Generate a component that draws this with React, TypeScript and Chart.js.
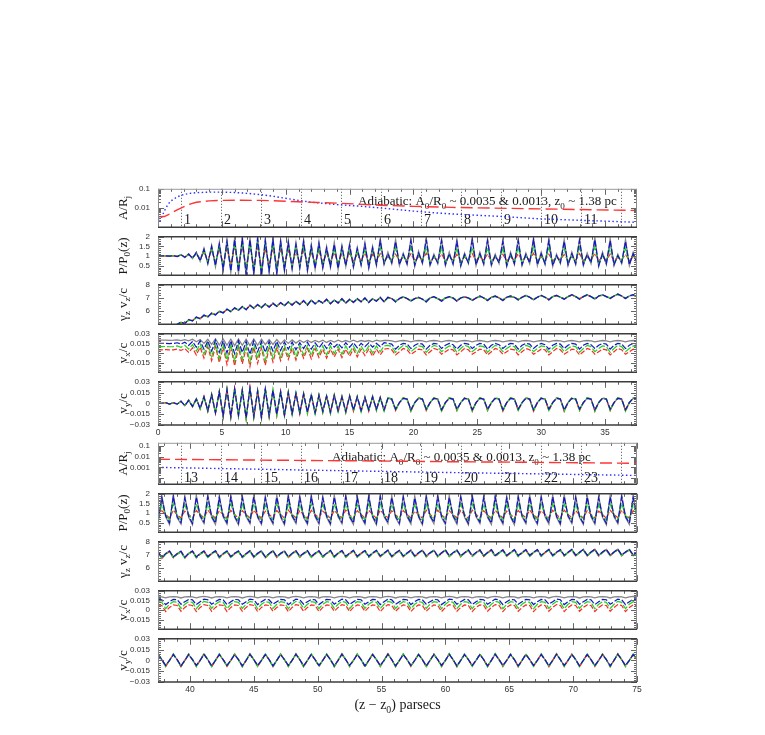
import React, { useEffect, useRef } from "react";
import { Chart, registerables } from "chart.js";

Chart.register(...registerables);

// ---------------- categories (x, parsecs) ----------------
const X_TOP = [
  0, .3, .6, .9, 1.2, 1.5, 1.8, 2.1, 2.4, 2.7,
  3, 3.3, 3.6, 3.9, 4.2, 4.5, 4.8, 5.1, 5.4, 5.7,
  6, 6.3, 6.6, 6.9, 7.2, 7.5, 7.8, 8.1, 8.4, 8.7,
  9, 9.3, 9.6, 9.9, 10.2, 10.5, 10.8, 11.1, 11.4, 11.7,
  12, 12.3, 12.6, 12.9, 13.2, 13.5, 13.8, 14.1, 14.4, 14.7,
  15, 15.3, 15.6, 15.9, 16.2, 16.5, 16.8, 17.1, 17.4, 17.7,
  18, 18.3, 18.6, 18.9, 19.2, 19.5, 19.8, 20.1, 20.4, 20.7,
  21, 21.3, 21.6, 21.9, 22.2, 22.5, 22.8, 23.1, 23.4, 23.7,
  24, 24.3, 24.6, 24.9, 25.2, 25.5, 25.8, 26.1, 26.4, 26.7,
  27, 27.3, 27.6, 27.9, 28.2, 28.5, 28.8, 29.1, 29.4, 29.7,
  30, 30.3, 30.6, 30.9, 31.2, 31.5, 31.8, 32.1, 32.4, 32.7,
  33, 33.3, 33.6, 33.9, 34.2, 34.5, 34.8, 35.1, 35.4, 35.7,
  36, 36.3, 36.6, 36.9, 37.2, 37.5,
];
const X_BOT = [
  37.5, 37.8, 38.1, 38.4, 38.7, 39, 39.3, 39.6, 39.9, 40.2,
  40.5, 40.8, 41.1, 41.4, 41.7, 42, 42.3, 42.6, 42.9, 43.2,
  43.5, 43.8, 44.1, 44.4, 44.7, 45, 45.3, 45.6, 45.9, 46.2,
  46.5, 46.8, 47.1, 47.4, 47.7, 48, 48.3, 48.6, 48.9, 49.2,
  49.5, 49.8, 50.1, 50.4, 50.7, 51, 51.3, 51.6, 51.9, 52.2,
  52.5, 52.8, 53.1, 53.4, 53.7, 54, 54.3, 54.6, 54.9, 55.2,
  55.5, 55.8, 56.1, 56.4, 56.7, 57, 57.3, 57.6, 57.9, 58.2,
  58.5, 58.8, 59.1, 59.4, 59.7, 60, 60.3, 60.6, 60.9, 61.2,
  61.5, 61.8, 62.1, 62.4, 62.7, 63, 63.3, 63.6, 63.9, 64.2,
  64.5, 64.8, 65.1, 65.4, 65.7, 66, 66.3, 66.6, 66.9, 67.2,
  67.5, 67.8, 68.1, 68.4, 68.7, 69, 69.3, 69.6, 69.9, 70.2,
  70.5, 70.8, 71.1, 71.4, 71.7, 72, 72.3, 72.6, 72.9, 73.2,
  73.5, 73.8, 74.1, 74.4, 74.7, 75,
];

// ---------------- A/R_j ----------------
const AR_TOP_RX = [0, .5, 1, 1.5, 2, 2.5, 3, 4, 5, 6.5, 8, 9.5, 11, 12.5, 14, 16, 18, 20, 23, 26, 30, 34, 37.5];
const AR_TOP_R = [.0035, .0036, .0052, .008, .0115, .016, .02, .0235, .025, .0252, .025, .0232, .021, .0195, .018, .0155, .0135, .0122, .0108, .0099, .009, .0081, .0074];
const AR_TOP_BX = [0, .2, .4, .6, .8, 1, 1.5, 2, 2.5, 3, 4, 5, 6, 7, 8, 9, 10, 11, 12, 14, 16, 18, 20, 22, 24, 27, 30, 33, 37.5];
const AR_TOP_B = [.0013, .0025, .005, .0095, .016, .023, .038, .05, .058, .063, .067, .067, .064, .058, .05, .041, .032, .025, .02, .015, .0122, .0092, .0069, .0054, .0045, .0036, .0027, .0023, .0018];
const AR_BOT_X = [37.5, 45, 52.5, 60, 67.5, 75];
const AR_BOT_R = [.0057, .0048, .0041, .0034, .0029, .0024];
const AR_BOT_B = [.001, .00069, .00048, .00034, .00025, .00018];

// ---------------- top group: P/P0 ----------------
const PT_K = [
  1, 1, 1.01, .99, 1.02, .97, 1.08, .92, 1.12, .86,
  1.2, .72, 1.4, .58, 1.55, .45, 1.7, .25, 1.85, .15,
  1.95, .1, 2, -.05, 1.95, .05, 2, -.1, 1.9, .15,
  1.95, .05, 1.85, .2, 1.8, .3, 1.7, .35, 1.85, .2,
  1.6, .3, 1.75, .35, 1.5, .4, 1.7, .3, 1.55, .45,
  1.65, .4, 1.45, .5, 1.7, .35, 1.5, .5, 1.9, .55,
  1.2, .6, 1.85, .5, 1.15, .55, 1.9, .45, 1.25, .6,
  1.95, .5, 1.1, .6, 1.9, .5, 1.2, .55, 1.85, .45,
  1.15, .6, 1.95, .5, 1.2, .55, 1.9, .5, 1.1, .6,
  1.85, .45, 1.2, .55, 1.9, .5, 1.15, .6, 1.95, .5,
  1.2, .55, 1.9, .45, 1.1, .6, 1.85, .5, 1.2, .55,
  1.9, .5, 1.15, .6, 1.95, .45, 1.2, .55, 1.9, .5,
  1.1, .6, 1.85, .5, 1.2, .6,
];
const PT_B = [
  1, 1, 1.01, .99, 1.02, .97, 1.07, .93, 1.1, .88,
  1.18, .75, 1.35, .62, 1.5, .5, 1.62, .32, 1.75, .22,
  1.85, .18, 1.9, .05, 1.85, .12, 1.9, 0, 1.8, .22,
  1.85, .12, 1.75, .28, 1.7, .36, 1.6, .4, 1.75, .28,
  1.52, .36, 1.65, .4, 1.42, .45, 1.6, .36, 1.48, .5,
  1.55, .45, 1.38, .55, 1.6, .4, 1.42, .55, 1.8, .6,
  1.12, .65, 1.75, .55, 1.08, .6, 1.8, .52, 1.15, .65,
  1.85, .55, 1.02, .65, 1.8, .55, 1.12, .6, 1.75, .5,
  1.08, .65, 1.85, .55, 1.12, .6, 1.8, .55, 1.02, .65,
  1.75, .5, 1.12, .6, 1.8, .55, 1.08, .65, 1.85, .55,
  1.12, .6, 1.8, .5, 1.02, .65, 1.75, .55, 1.12, .6,
  1.8, .55, 1.08, .65, 1.85, .5, 1.12, .6, 1.8, .55,
  1.02, .65, 1.75, .55, 1.12, .65,
];
const PT_G = [
  1, 1, 1.01, .99, 1.02, .98, 1.06, .94, 1.09, .9,
  1.15, .8, 1.3, .68, 1.42, .58, 1.52, .45, 1.6, .38,
  1.68, .35, 1.7, .28, 1.65, .32, 1.7, .25, 1.6, .38,
  1.62, .32, 1.55, .42, 1.5, .48, 1.42, .5, 1.5, .45,
  1.35, .5, 1.42, .52, 1.28, .55, 1.38, .5, 1.3, .6,
  1.32, .58, 1.25, .62, 1.35, .55, 1.25, .65, 1.45, .68,
  1.02, .7, 1.42, .65, 1, .68, 1.45, .62, 1.05, .7,
  1.48, .65, .98, .7, 1.42, .65, 1.02, .68, 1.4, .62,
  1, .7, 1.45, .65, 1.02, .68, 1.42, .65, .98, .7,
  1.4, .62, 1.02, .68, 1.45, .65, 1, .7, 1.48, .65,
  1.02, .68, 1.42, .62, .98, .7, 1.4, .65, 1.02, .68,
  1.45, .65, 1, .7, 1.48, .62, 1.02, .68, 1.42, .65,
  .98, .7, 1.4, .65, 1.02, .7,
];
const PT_R = [
  1, 1, 1, 1, 1.01, .99, 1.04, .96, 1.06, .93,
  1.1, .86, 1.2, .78, 1.28, .7, 1.35, .6, 1.4, .55,
  1.45, .52, 1.48, .48, 1.42, .5, 1.45, .45, 1.38, .55,
  1.4, .52, 1.32, .6, 1.3, .62, 1.22, .65, 1.28, .62,
  1.18, .65, 1.22, .68, 1.12, .7, 1.18, .66, 1.12, .72,
  1.14, .72, 1.08, .75, 1.15, .7, 1.08, .76, 1.12, .78,
  .95, .8, 1.1, .76, .94, .78, 1.12, .74, .96, .8,
  1.14, .76, .92, .8, 1.1, .76, .95, .78, 1.08, .74,
  .94, .8, 1.12, .76, .96, .78, 1.1, .76, .92, .8,
  1.08, .74, .95, .78, 1.12, .76, .94, .8, 1.14, .76,
  .96, .78, 1.1, .74, .92, .8, 1.08, .76, .96, .78,
  1.12, .76, .94, .8, 1.14, .74, .96, .78, 1.1, .76,
  .92, .8, 1.08, .76, .96, .8,
];

// ---------------- top group: gamma_z v_z / c ----------------
const GT_A = [
  3.6, 3.9, 4.2, 4.5, 4.75, 5, 5.15, 5.05, 5.35, 5.25,
  5.55, 5.4, 5.7, 5.55, 5.85, 5.7, 6, 5.85, 6.15, 5.95,
  6.25, 6.05, 6.35, 6.1, 6.45, 6.2, 6.5, 6.25, 6.55, 6.3,
  6.6, 6.35, 6.65, 6.4, 6.7, 6.45, 6.75, 6.5, 6.8, 6.45,
  6.85, 6.55, 6.8, 6.6, 6.9, 6.55, 6.85, 6.6, 6.95, 6.6,
  6.9, 6.65, 6.95, 6.7, 7, 6.65, 6.95, 6.75, 7.05, 6.7,
  7.05, 6.95, 6.7, 6.95, 7.1, 6.95, 6.75, 6.95, 7.05, 6.9,
  6.7, 7, 7.1, 6.95, 6.75, 7, 7.1, 7, 6.75, 7,
  7.1, 7, 6.8, 7, 7.15, 7, 6.8, 7.05, 7.15, 7,
  6.8, 7.05, 7.15, 7.05, 6.85, 7.05, 7.2, 7.05, 6.85, 7.05,
  7.2, 7.05, 6.85, 7.1, 7.2, 7.05, 6.9, 7.1, 7.25, 7.1,
  6.9, 7.1, 7.25, 7.1, 6.9, 7.15, 7.25, 7.1, 6.95, 7.15,
  7.3, 7.15, 6.95, 7.15, 7.25, 7.1,
];
const GT_B = [
  3.6, 3.9, 4.2, 4.5, 4.75, 4.98, 5.12, 5.08, 5.3, 5.28,
  5.5, 5.45, 5.65, 5.6, 5.8, 5.75, 5.95, 5.9, 6.1, 6,
  6.2, 6.1, 6.3, 6.15, 6.4, 6.25, 6.45, 6.3, 6.5, 6.35,
  6.55, 6.4, 6.6, 6.45, 6.65, 6.5, 6.7, 6.55, 6.75, 6.5,
  6.8, 6.6, 6.75, 6.65, 6.85, 6.6, 6.8, 6.65, 6.9, 6.65,
  6.85, 6.7, 6.9, 6.75, 6.95, 6.7, 6.9, 6.8, 7, 6.75,
  7, 6.95, 6.78, 6.95, 7.05, 6.95, 6.82, 6.95, 7, 6.92,
  6.78, 7, 7.05, 6.95, 6.82, 7, 7.05, 7, 6.82, 7,
  7.05, 7, 6.86, 7, 7.1, 7, 6.86, 7.05, 7.1, 7,
  6.86, 7.05, 7.1, 7.05, 6.9, 7.05, 7.15, 7.05, 6.9, 7.05,
  7.15, 7.05, 6.9, 7.1, 7.15, 7.05, 6.95, 7.1, 7.2, 7.1,
  6.95, 7.1, 7.2, 7.1, 6.95, 7.15, 7.2, 7.1, 7, 7.15,
  7.25, 7.15, 7, 7.15, 7.2, 7.1,
];

// ---------------- top group: v_x / c ----------------
const VXT_K = [
  .02, .02, .0202, .0198, .02, .0205, .0195, .021, .019, .0215,
  .0175, .021, .015, .0215, .0135, .022, .0125, .022, .012, .0215,
  .0115, .022, .012, .0215, .0115, .022, .012, .0215, .013, .021,
  .0135, .021, .014, .0205, .015, .0205, .0155, .02, .0165, .02,
  .0165, .0195, .017, .02, .0165, .0195, .017, .02, .0175, .0195,
  .0175, .02, .0175, .0195, .018, .0195, .0175, .02, .0185, .0195,
  .0195, .019, .0175, .019, .0195, .019, .0175, .019, .0195, .019,
  .0175, .019, .0195, .019, .0175, .019, .0195, .0185, .0175, .019,
  .0195, .019, .0175, .019, .0195, .0185, .0175, .019, .0195, .019,
  .0175, .0185, .0195, .019, .0175, .019, .0195, .019, .0175, .0185,
  .0195, .019, .0175, .019, .0195, .019, .0175, .019, .0195, .0185,
  .0175, .019, .0195, .019, .0175, .0185, .0195, .019, .0175, .019,
  .0195, .019, .0175, .019, .0195, .019,
];
const VXT_B = [
  .015, .015, .0152, .0148, .015, .016, .014, .017, .012, .018,
  .009, .019, .006, .019, .003, .02, .001, .019, 0, .019,
  -.001, .019, .001, .018, -.002, .019, .002, .018, .001, .018,
  .003, .018, .004, .017, .006, .017, .005, .016, .007, .017,
  .006, .016, .008, .016, .007, .016, .009, .015, .008, .016,
  .009, .016, .008, .015, .01, .016, .009, .015, .01, .016,
  .015, .014, .006, .012, .015, .014, .007, .012, .015, .014,
  .006, .012, .015, .014, .007, .012, .015, .013, .006, .012,
  .015, .014, .007, .012, .015, .014, .006, .012, .015, .013,
  .007, .012, .015, .014, .006, .012, .015, .014, .007, .012,
  .015, .013, .006, .012, .015, .014, .007, .012, .015, .014,
  .006, .012, .015, .013, .007, .012, .015, .014, .006, .012,
  .015, .014, .007, .012, .015, .014,
];
const VXT_G = [
  .01, .01, .0102, .0098, .01, .011, .009, .012, .006, .013,
  .003, .014, -.002, .015, -.006, .015, -.009, .014, -.011, .014,
  -.013, .014, -.01, .013, -.014, .014, -.009, .013, -.012, .013,
  -.008, .013, -.007, .012, -.005, .012, -.006, .012, -.003, .012,
  -.004, .012, -.002, .011, -.003, .011, -.001, .011, -.002, .011,
  0, .011, -.001, .011, .001, .011, 0, .011, .002, .011,
  .012, .01, .001, .007, .012, .01, .002, .007, .011, .01,
  .001, .007, .012, .01, .002, .007, .011, .01, .001, .007,
  .012, .01, .002, .007, .011, .01, .001, .007, .012, .01,
  .002, .007, .011, .01, .001, .007, .012, .01, .002, .007,
  .011, .01, .001, .007, .012, .01, .002, .007, .011, .01,
  .001, .007, .012, .01, .002, .007, .011, .01, .001, .007,
  .012, .01, .002, .007, .011, .01,
];
const VXT_R = [
  .005, .005, .0052, .0048, .005, .006, .004, .007, .001, .008,
  -.003, .009, -.008, .01, -.012, .01, -.015, .009, -.018, .009,
  -.02, .009, -.017, .008, -.021, .009, -.016, .008, -.019, .008,
  -.014, .008, -.012, .007, -.01, .007, -.011, .007, -.008, .007,
  -.009, .007, -.007, .006, -.008, .006, -.006, .006, -.007, .006,
  -.005, .006, -.006, .006, -.004, .006, -.005, .006, -.003, .006,
  .007, .005, -.003, .002, .007, .005, -.002, .002, .006, .005,
  -.003, .002, .007, .005, -.002, .002, .006, .005, -.003, .002,
  .007, .005, -.002, .002, .006, .005, -.003, .002, .007, .005,
  -.002, .002, .006, .005, -.003, .002, .007, .005, -.002, .002,
  .006, .005, -.003, .002, .007, .005, -.002, .002, .006, .005,
  -.003, .002, .007, .005, -.002, .002, .006, .005, -.003, .002,
  .007, .005, -.002, .002, .006, .005,
];

// ---------------- top group: v_y / c ----------------
const VYT_A = [
  0, 0, .001, -.001, .001, -.001, .003, -.003, .004, -.004,
  .006, -.007, .009, -.01, .012, -.013, .016, -.017, .019, -.018,
  .02, -.016, .018, -.02, .021, -.018, .017, -.019, .02, -.017,
  .018, -.015, .016, -.016, .015, -.014, .014, -.013, .013, -.012,
  .012, -.013, .011, -.011, .01, -.012, .011, -.01, .009, -.011,
  .01, -.009, .009, -.01, .008, -.009, .009, -.008, .008, -.009,
  .007, .006, -.008, .001, .007, .006, -.009, .001, .007, .006,
  -.008, .001, .007, .006, -.009, .001, .007, .006, -.008, .001,
  .007, .006, -.009, .001, .007, .006, -.008, .001, .007, .006,
  -.009, .001, .007, .006, -.008, .001, .007, .006, -.009, .001,
  .007, .006, -.008, .001, .007, .006, -.009, .001, .007, .006,
  -.008, .001, .007, .006, -.009, .001, .007, .006, -.008, .001,
  .007, .006, -.009, .001, .007, .006,
];
const VYT_B = [
  0, 0, .001, -.001, .001, -.001, .003, -.003, .005, -.005,
  .007, -.008, .01, -.011, .013, -.014, .017, -.019, .02, -.02,
  .021, -.018, .019, -.022, .022, -.02, .018, -.021, .021, -.019,
  .019, -.017, .017, -.018, .016, -.016, .015, -.015, .014, -.014,
  .013, -.015, .012, -.013, .011, -.014, .012, -.012, .01, -.013,
  .011, -.011, .01, -.012, .009, -.011, .01, -.01, .009, -.011,
  .008, .006, -.01, .001, .008, .006, -.011, .001, .008, .006,
  -.01, .001, .008, .006, -.011, .001, .008, .006, -.01, .001,
  .008, .006, -.011, .001, .008, .006, -.01, .001, .008, .006,
  -.011, .001, .008, .006, -.01, .001, .008, .006, -.011, .001,
  .008, .006, -.01, .001, .008, .006, -.011, .001, .008, .006,
  -.01, .001, .008, .006, -.011, .001, .008, .006, -.01, .001,
  .008, .006, -.011, .001, .008, .006,
];

// ---------------- bottom group: P/P0 ----------------
const PB_K = [
  .45, 1.9, .8, .4, 1.95, .75, .42, 1.88, .78, .38,
  1.92, .8, .45, 1.95, .76, .4, 1.9, .8, .42, 1.93,
  .78, .38, 1.9, .8, .44, 1.95, .76, .4, 1.88, .8,
  .42, 1.92, .78, .38, 1.95, .8, .45, 1.9, .76, .4,
  1.93, .8, .42, 1.88, .78, .38, 1.92, .8, .44, 1.95,
  .76, .4, 1.9, .8, .42, 1.93, .78, .38, 1.95, .8,
  .45, 1.9, .76, .4, 1.92, .8, .42, 1.88, .78, .38,
  1.93, .8, .44, 1.95, .76, .4, 1.9, .8, .42, 1.92,
  .78, .38, 1.95, .8, .45, 1.9, .76, .4, 1.93, .8,
  .42, 1.88, .78, .38, 1.92, .8, .44, 1.95, .76, .4,
  1.9, .8, .42, 1.93, .78, .38, 1.95, .8, .45, 1.9,
  .76, .4, 1.92, .8, .42, 1.88, .78, .38, 1.93, .8,
  .44, 1.95, .76, .4, 1.9, .8,
];
const PB_B = [
  .53, 1.8, .85, .48, 1.85, .8, .5, 1.78, .83, .46,
  1.82, .85, .53, 1.85, .81, .48, 1.8, .85, .5, 1.83,
  .83, .46, 1.8, .85, .52, 1.85, .81, .48, 1.78, .85,
  .5, 1.82, .83, .46, 1.85, .85, .53, 1.8, .81, .48,
  1.83, .85, .5, 1.78, .83, .46, 1.82, .85, .52, 1.85,
  .81, .48, 1.8, .85, .5, 1.83, .83, .46, 1.85, .85,
  .53, 1.8, .81, .48, 1.82, .85, .5, 1.78, .83, .46,
  1.83, .85, .52, 1.85, .81, .48, 1.8, .85, .5, 1.82,
  .83, .46, 1.85, .85, .53, 1.8, .81, .48, 1.83, .85,
  .5, 1.78, .83, .46, 1.82, .85, .52, 1.85, .81, .48,
  1.8, .85, .5, 1.83, .83, .46, 1.85, .85, .53, 1.8,
  .81, .48, 1.82, .85, .5, 1.78, .83, .46, 1.83, .85,
  .52, 1.85, .81, .48, 1.8, .85,
];
const PB_G = [
  .66, 1.45, .9, .64, 1.48, .88, .65, 1.42, .9, .62,
  1.46, .9, .66, 1.48, .88, .64, 1.45, .9, .65, 1.47,
  .9, .62, 1.45, .9, .66, 1.48, .88, .64, 1.42, .9,
  .65, 1.46, .9, .62, 1.48, .9, .66, 1.45, .88, .64,
  1.47, .9, .65, 1.42, .9, .62, 1.46, .9, .66, 1.48,
  .88, .64, 1.45, .9, .65, 1.47, .9, .62, 1.48, .9,
  .66, 1.45, .88, .64, 1.46, .9, .65, 1.42, .9, .62,
  1.47, .9, .66, 1.48, .88, .64, 1.45, .9, .65, 1.46,
  .9, .62, 1.48, .9, .66, 1.45, .88, .64, 1.47, .9,
  .65, 1.42, .9, .62, 1.46, .9, .66, 1.48, .88, .64,
  1.45, .9, .65, 1.47, .9, .62, 1.48, .9, .66, 1.45,
  .88, .64, 1.46, .9, .65, 1.42, .9, .62, 1.47, .9,
  .66, 1.48, .88, .64, 1.45, .9,
];
const PB_R = [
  .76, 1.12, .92, .74, 1.15, .9, .75, 1.1, .92, .73,
  1.13, .92, .76, 1.15, .9, .74, 1.12, .92, .75, 1.14,
  .92, .73, 1.12, .92, .76, 1.15, .9, .74, 1.1, .92,
  .75, 1.13, .92, .73, 1.15, .92, .76, 1.12, .9, .74,
  1.14, .92, .75, 1.1, .92, .73, 1.13, .92, .76, 1.15,
  .9, .74, 1.12, .92, .75, 1.14, .92, .73, 1.15, .92,
  .76, 1.12, .9, .74, 1.13, .92, .75, 1.1, .92, .73,
  1.14, .92, .76, 1.15, .9, .74, 1.12, .92, .75, 1.13,
  .92, .73, 1.15, .92, .76, 1.12, .9, .74, 1.14, .92,
  .75, 1.1, .92, .73, 1.13, .92, .76, 1.15, .9, .74,
  1.12, .92, .75, 1.14, .92, .73, 1.15, .92, .76, 1.12,
  .9, .74, 1.13, .92, .75, 1.1, .92, .73, 1.14, .92,
  .76, 1.15, .9, .74, 1.12, .92,
];

// ---------------- bottom group: gamma_z v_z / c ----------------
const GB_A = [
  7.25, 6.8, 7.1, 7.3, 6.85, 7.1, 7.28, 6.82, 7.12, 7.3,
  6.85, 7.1, 7.3, 6.88, 7.12, 7.32, 6.85, 7.1, 7.3, 6.88,
  7.12, 7.3, 6.86, 7.1, 7.32, 6.88, 7.12, 7.3, 6.85, 7.1,
  7.33, 6.88, 7.12, 7.3, 6.86, 7.12, 7.32, 6.9, 7.12, 7.33,
  6.88, 7.13, 7.32, 6.9, 7.12, 7.35, 6.88, 7.14, 7.33, 6.9,
  7.13, 7.35, 6.9, 7.14, 7.33, 6.9, 7.15, 7.35, 6.92, 7.14,
  7.36, 6.9, 7.15, 7.35, 6.92, 7.15, 7.36, 6.92, 7.16, 7.37,
  6.93, 7.16, 7.36, 6.92, 7.16, 7.38, 6.94, 7.17, 7.37, 6.93,
  7.17, 7.38, 6.95, 7.18, 7.38, 6.94, 7.18, 7.4, 6.95, 7.18,
  7.38, 6.96, 7.19, 7.4, 6.95, 7.18, 7.4, 6.97, 7.2, 7.4,
  6.96, 7.2, 7.42, 6.97, 7.2, 7.4, 6.98, 7.2, 7.42, 6.98,
  7.21, 7.42, 6.98, 7.22, 7.43, 6.98, 7.22, 7.42, 7, 7.22,
  7.44, 7, 7.23, 7.43, 7, 7.22,
];
const GB_B = [
  7.2, 6.72, 7.05, 7.25, 6.78, 7.05, 7.22, 6.75, 7.08, 7.25,
  6.78, 7.05, 7.25, 6.8, 7.08, 7.27, 6.78, 7.05, 7.25, 6.8,
  7.08, 7.25, 6.8, 7.05, 7.27, 6.8, 7.08, 7.25, 6.78, 7.05,
  7.28, 6.8, 7.08, 7.25, 6.8, 7.08, 7.27, 6.82, 7.08, 7.28,
  6.8, 7.08, 7.27, 6.82, 7.08, 7.3, 6.8, 7.1, 7.28, 6.82,
  7.08, 7.3, 6.82, 7.1, 7.28, 6.82, 7.1, 7.3, 6.85, 7.1,
  7.31, 6.82, 7.1, 7.3, 6.85, 7.1, 7.31, 6.85, 7.12, 7.32,
  6.86, 7.12, 7.31, 6.85, 7.12, 7.33, 6.87, 7.13, 7.32, 6.86,
  7.13, 7.33, 6.88, 7.14, 7.33, 6.87, 7.14, 7.35, 6.88, 7.14,
  7.33, 6.89, 7.15, 7.35, 6.88, 7.14, 7.35, 6.9, 7.16, 7.35,
  6.89, 7.16, 7.37, 6.9, 7.16, 7.35, 6.91, 7.16, 7.37, 6.91,
  7.17, 7.37, 6.91, 7.18, 7.38, 6.91, 7.18, 7.37, 6.93, 7.18,
  7.39, 6.93, 7.19, 7.38, 6.93, 7.18,
];

// ---------------- bottom group: v_x / c ----------------
const VXB_K = [
  .021, .0205, .019, .0205, .021, .0205, .0188, .0205, .021, .0205,
  .019, .0205, .0212, .0205, .0188, .0205, .021, .0205, .019, .0205,
  .021, .0205, .0188, .0205, .0212, .0205, .019, .0205, .021, .0205,
  .019, .0205, .021, .0205, .0188, .0205, .0212, .0205, .019, .0205,
  .021, .0205, .0188, .0205, .021, .0205, .019, .0205, .0212, .0205,
  .019, .0205, .021, .0205, .0188, .0205, .021, .0205, .019, .0205,
  .0212, .0205, .0188, .0205, .021, .0205, .019, .0205, .021, .0205,
  .0188, .0205, .021, .0205, .019, .0205, .0212, .0205, .0188, .0205,
  .021, .0205, .019, .0205, .021, .0205, .0188, .0205, .0212, .0205,
  .019, .0205, .021, .0205, .0188, .0205, .021, .0205, .019, .0205,
  .021, .0205, .0188, .0205, .0212, .0205, .019, .0205, .021, .0205,
  .0188, .0205, .021, .0205, .019, .0205, .021, .0205, .0188, .0205,
  .021, .0205, .019, .0205, .0212, .0205,
];
const VXB_B = [
  .0165, .016, .0085, .013, .0165, .016, .009, .013, .0165, .016,
  .0085, .013, .017, .016, .009, .013, .0165, .0158, .0085, .013,
  .0165, .016, .009, .013, .017, .016, .0085, .013, .0165, .016,
  .009, .013, .0165, .016, .0085, .0128, .017, .016, .009, .013,
  .0165, .016, .0085, .013, .0165, .016, .009, .013, .017, .016,
  .0085, .013, .0165, .016, .009, .013, .0165, .016, .0085, .013,
  .017, .016, .009, .013, .0165, .016, .0085, .013, .0165, .016,
  .009, .013, .0165, .016, .0085, .013, .017, .016, .009, .013,
  .0165, .016, .0085, .013, .0165, .016, .009, .013, .017, .016,
  .0085, .013, .0165, .016, .009, .013, .0165, .016, .0085, .013,
  .0165, .016, .009, .013, .017, .016, .0085, .013, .0165, .016,
  .009, .013, .0165, .016, .0085, .013, .0165, .016, .009, .013,
  .017, .016, .0085, .013, .0165, .016,
];
const VXB_G = [
  .013, .012, .002, .009, .013, .012, .0025, .009, .013, .012,
  .002, .009, .0135, .012, .0025, .009, .013, .012, .002, .009,
  .013, .012, .0025, .009, .0135, .012, .002, .009, .013, .012,
  .0025, .009, .013, .012, .002, .009, .0135, .012, .0025, .009,
  .013, .012, .002, .009, .013, .012, .0025, .009, .0135, .012,
  .002, .009, .013, .012, .0025, .009, .013, .012, .002, .009,
  .0135, .012, .0025, .009, .013, .012, .002, .009, .013, .012,
  .0025, .009, .013, .012, .002, .009, .0135, .012, .0025, .009,
  .013, .012, .002, .009, .013, .012, .0025, .009, .0135, .012,
  .002, .009, .013, .012, .0025, .009, .013, .012, .002, .009,
  .013, .012, .0025, .009, .0135, .012, .002, .009, .013, .012,
  .0025, .009, .013, .012, .002, .009, .013, .012, .0025, .009,
  .0135, .012, .002, .009, .013, .012,
];
const VXB_R = [
  .008, .007, -.0025, .004, .008, .007, -.002, .004, .008, .007,
  -.0025, .004, .0085, .007, -.002, .004, .008, .007, -.0025, .004,
  .008, .007, -.002, .004, .0085, .007, -.0025, .004, .008, .007,
  -.002, .004, .008, .007, -.0025, .004, .0085, .007, -.002, .004,
  .008, .007, -.0025, .004, .008, .007, -.002, .004, .0085, .007,
  -.0025, .004, .008, .007, -.002, .004, .008, .007, -.0025, .004,
  .0085, .007, -.002, .004, .008, .007, -.0025, .004, .008, .007,
  -.002, .004, .008, .007, -.0025, .004, .0085, .007, -.002, .004,
  .008, .007, -.0025, .004, .008, .007, -.002, .004, .0085, .007,
  -.0025, .004, .008, .007, -.002, .004, .008, .007, -.0025, .004,
  .008, .007, -.002, .004, .0085, .007, -.0025, .004, .008, .007,
  -.002, .004, .008, .007, -.0025, .004, .008, .007, -.002, .004,
  .0085, .007, -.0025, .004, .008, .007,
];

// ---------------- bottom group: v_y / c ----------------
const VYB_A = [
  .008, .001, -.007, 0, .008, .001, -.0075, 0, .008, .001,
  -.007, 0, .0085, .001, -.0075, 0, .008, .001, -.007, 0,
  .008, .001, -.0075, 0, .0085, .001, -.007, 0, .008, .001,
  -.0075, 0, .008, .001, -.007, 0, .0085, .001, -.0075, 0,
  .008, .001, -.007, 0, .008, .001, -.0075, 0, .0085, .001,
  -.007, 0, .008, .001, -.0075, 0, .008, .001, -.007, 0,
  .0085, .001, -.0075, 0, .008, .001, -.007, 0, .008, .001,
  -.0075, 0, .008, .001, -.007, 0, .0085, .001, -.0075, 0,
  .008, .001, -.007, 0, .008, .001, -.0075, 0, .0085, .001,
  -.007, 0, .008, .001, -.0075, 0, .008, .001, -.007, 0,
  .008, .001, -.0075, 0, .0085, .001, -.007, 0, .008, .001,
  -.0075, 0, .008, .001, -.007, 0, .008, .001, -.0075, 0,
  .0085, .001, -.007, 0, .008, .001,
];
const VYB_B = [
  .009, .001, -.0085, 0, .009, .001, -.009, 0, .009, .001,
  -.0085, 0, .0095, .001, -.009, 0, .009, .001, -.0085, 0,
  .009, .001, -.009, 0, .0095, .001, -.0085, 0, .009, .001,
  -.009, 0, .009, .001, -.0085, 0, .0095, .001, -.009, 0,
  .009, .001, -.0085, 0, .009, .001, -.009, 0, .0095, .001,
  -.0085, 0, .009, .001, -.009, 0, .009, .001, -.0085, 0,
  .0095, .001, -.009, 0, .009, .001, -.0085, 0, .009, .001,
  -.009, 0, .009, .001, -.0085, 0, .0095, .001, -.009, 0,
  .009, .001, -.0085, 0, .009, .001, -.009, 0, .0095, .001,
  -.0085, 0, .009, .001, -.009, 0, .009, .001, -.0085, 0,
  .009, .001, -.009, 0, .0095, .001, -.0085, 0, .009, .001,
  -.009, 0, .009, .001, -.0085, 0, .009, .001, -.009, 0,
  .0095, .001, -.0085, 0, .009, .001,
];

// ---------------- marker lines, ticks, labels ----------------
const LINE_X_TOP = [1.81, 4.94, 8.07, 11.2, 14.33, 17.46, 20.59, 23.72, 26.85, 29.98, 33.11, 36.24];
const LINE_X_BOT = [39.31, 42.44, 45.57, 48.7, 51.83, 54.96, 58.09, 61.22, 64.35, 67.48, 70.61, 73.74];
const LINE_LABELS_TOP = ["1", "2", "3", "4", "5", "6", "7", "8", "9", "10", "11"];
const LINE_LABELS_BOT = ["13", "14", "15", "16", "17", "18", "19", "20", "21", "22", "23"];

const X_TICKS_TOP = [0, 5, 10, 15, 20, 25, 30, 35];
const X_TICKS_BOT = [40, 45, 50, 55, 60, 65, 70, 75];
const Y_TICKS_AR_TOP = [0.1, 0.01];
const Y_TICKS_AR_BOT = [0.1, 0.01, 0.001];
const Y_TICKS_P = [2, 1.5, 1, 0.5];
const Y_TICKS_GV = [8, 7, 6];
const Y_TICKS_VX = [0.03, 0.015, 0, -0.015];
const Y_TICKS_VY = [0.03, 0.015, 0, -0.015, -0.03];

type Seg = [string, number];
const ANNOT: Seg[] = [["Adiabatic: A", 0], ["0", 1], ["/R", 0], ["0", 1], [" ~ 0.0035 & 0.0013, z", 0], ["0", 1], [" ~ 1.38 pc", 0]];
const T_AR: Seg[] = [["A/R", 0], ["j", 1]];
const T_P: Seg[] = [["P/P", 0], ["0", 1], ["(z)", 0]];
const T_GV: Seg[] = [["\u03b3", 0], ["z", 1], [" v", 0], ["z", 1], ["/c", 0]];
const T_VX: Seg[] = [["v", 0], ["x", 1], ["/c", 0]];
const T_VY: Seg[] = [["v", 0], ["y", 1], ["/c", 0]];
const X_TITLE: Seg[] = [["(z \u2212 z", 0], ["0", 1], [") parsecs", 0]];

// ---------------- styling / layout ----------------
const W = 765;
const PAD = 8;
const PLOT_L = 158;
const PLOT_R = 637;
const TITLE_X = 122;
const TITLE_SIZE = 13;
const ANNOT_W = 259;
const SERIF = '"Liberation Serif", "Times New Roman", serif';
const SANS = '"Liberation Sans", Arial, sans-serif';

const C_GRAY = "#858585";
const C_BLUE = "#1414c8";
const C_GREEN = "#1fd61f";
const C_RED = "#ff2626";

function ser(xs: number[], ys: number[], color: string, width: number, dash: number[] = []) {
  return {
    data: xs.map((x, i) => ({ x, y: ys[i] })),
    borderColor: color,
    borderWidth: width,
    borderDash: dash,
    pointRadius: 0,
    fill: false,
    tension: 0,
  };
}
function four(xs: number[], k: number[], b: number[], g: number[], r: number[]) {
  return [
    ser(xs, b, C_BLUE, 1.2, [6, 2]),
    ser(xs, g, C_GREEN, 1.2, [7, 2]),
    ser(xs, r, C_RED, 1.2, [5, 2]),
    ser(xs, k, C_GRAY, 1.3),
  ];
}
function arSets(rx: number[], r: number[], bx: number[], b: number[]) {
  return [
    ser(rx, r, "#ff3434", 1.4, [12, 5]),
    ser(bx, b, "#2f2fff", 1.4, [1.5, 2.5]),
  ];
}

interface Marks { lines: number[]; labels: string[]; labelY: number; annX: number; annY: number }
interface Spec {
  key: string; top: number; h: number; xMin: number; xMax: number;
  yType: "linear" | "logarithmic"; yMin: number; yMax: number; yTicks: number[];
  yMinor: number; yMajor: number; datasets: any[]; xTicks?: number[]; padBottom?: number;
  title: Seg[]; first?: boolean; marks?: Marks; xTitle?: boolean;
}

const PANELS: Spec[] = [
  { key: "arT", top: 184, h: 48, xMin: 0, xMax: 37.5, yType: "logarithmic", yMin: 0.001, yMax: 0.1, yTicks: Y_TICKS_AR_TOP, yMinor: 0, yMajor: 0,
    datasets: arSets(AR_TOP_RX, AR_TOP_R, AR_TOP_BX, AR_TOP_B), title: T_AR, first: true,
    marks: { lines: LINE_X_TOP, labels: LINE_LABELS_TOP, labelY: 216, annX: 358, annY: 196 } },
  { key: "pT", top: 232, h: 48, xMin: 0, xMax: 37.5, yType: "linear", yMin: 0, yMax: 2, yTicks: Y_TICKS_P, yMinor: 0.1, yMajor: 0.5,
    datasets: four(X_TOP, PT_K, PT_B, PT_G, PT_R), title: T_P },
  { key: "gT", top: 280, h: 49, xMin: 0, xMax: 37.5, yType: "linear", yMin: 5, yMax: 8, yTicks: Y_TICKS_GV, yMinor: 0.2, yMajor: 1,
    datasets: four(X_TOP, GT_A, GT_A, GT_B, GT_B), title: T_GV },
  { key: "vxT", top: 329, h: 48, xMin: 0, xMax: 37.5, yType: "linear", yMin: -0.03, yMax: 0.03, yTicks: Y_TICKS_VX, yMinor: 0.003, yMajor: 0.015,
    datasets: four(X_TOP, VXT_K, VXT_B, VXT_G, VXT_R), title: T_VX },
  { key: "vyT", top: 377, h: 48, xMin: 0, xMax: 37.5, yType: "linear", yMin: -0.03, yMax: 0.03, yTicks: Y_TICKS_VY, yMinor: 0.003, yMajor: 0.015,
    datasets: four(X_TOP, VYT_A, VYT_A, VYT_B, VYT_B), title: T_VY, xTicks: X_TICKS_TOP, padBottom: 0 },
  { key: "arB", top: 438, h: 51, xMin: 37.5, xMax: 75, yType: "logarithmic", yMin: 0.0000278, yMax: 0.19, yTicks: Y_TICKS_AR_BOT, yMinor: 0, yMajor: 0,
    datasets: arSets(AR_BOT_X, AR_BOT_R, AR_BOT_X, AR_BOT_B), title: T_AR, first: true,
    marks: { lines: LINE_X_BOT, labels: LINE_LABELS_BOT, labelY: 474, annX: 332, annY: 452 } },
  { key: "pB", top: 489, h: 48, xMin: 37.5, xMax: 75, yType: "linear", yMin: 0, yMax: 2, yTicks: Y_TICKS_P, yMinor: 0.1, yMajor: 0.5,
    datasets: four(X_BOT, PB_K, PB_B, PB_G, PB_R), title: T_P },
  { key: "gB", top: 537, h: 49, xMin: 37.5, xMax: 75, yType: "linear", yMin: 5, yMax: 8, yTicks: Y_TICKS_GV, yMinor: 0.2, yMajor: 1,
    datasets: four(X_BOT, GB_A, GB_A, GB_B, GB_B), title: T_GV },
  { key: "vxB", top: 586, h: 48, xMin: 37.5, xMax: 75, yType: "linear", yMin: -0.03, yMax: 0.03, yTicks: Y_TICKS_VX, yMinor: 0.003, yMajor: 0.015,
    datasets: four(X_BOT, VXB_K, VXB_B, VXB_G, VXB_R), title: T_VX },
  { key: "vyB", top: 634, h: 48, xMin: 37.5, xMax: 75, yType: "linear", yMin: -0.03, yMax: 0.03, yTicks: Y_TICKS_VY, yMinor: 0.003, yMajor: 0.015,
    datasets: four(X_BOT, VYB_A, VYB_A, VYB_B, VYB_B), title: T_VY, xTicks: X_TICKS_BOT, padBottom: 30, xTitle: true },
];

function canvasH(p: Spec) {
  return PAD + p.h + (p.xTicks ? 16 + (p.padBottom || 0) : PAD);
}

function fmt(v: number) {
  if (Math.abs(v) < 1e-12) return "0";
  return String(v).replace("-", "\u2212");
}

function richWidth(ctx: CanvasRenderingContext2D, segs: Seg[], size: number, fam: string) {
  let w = 0;
  for (const [t, s] of segs) {
    ctx.font = `${s ? size * 0.7 : size}px ${fam}`;
    w += ctx.measureText(t).width;
  }
  return w;
}
function drawRich(ctx: CanvasRenderingContext2D, segs: Seg[], x: number, y: number, size: number, fam: string, align: "left" | "center") {
  const w = richWidth(ctx, segs, size, fam);
  let cx = align === "center" ? x - w / 2 : x;
  ctx.textAlign = "left";
  ctx.textBaseline = "alphabetic";
  for (const [t, s] of segs) {
    ctx.font = `${s ? size * 0.7 : size}px ${fam}`;
    ctx.fillText(t, cx, s ? y + size * 0.3 : y);
    cx += ctx.measureText(t).width;
  }
}

function yTickList(p: Spec): { v: number; major: boolean }[] {
  const out: { v: number; major: boolean }[] = [];
  if (p.yType === "logarithmic") {
    const e0 = Math.floor(Math.log10(p.yMin));
    const e1 = Math.ceil(Math.log10(p.yMax));
    for (let e = e0; e <= e1; e++) {
      for (let m = 1; m <= 9; m++) {
        const v = m * Math.pow(10, e);
        if (v >= p.yMin * 0.999 && v <= p.yMax * 1.001) out.push({ v, major: m === 1 });
      }
    }
  } else {
    const n0 = Math.ceil(p.yMin / p.yMinor - 1e-6);
    const n1 = Math.floor(p.yMax / p.yMinor + 1e-6);
    for (let n = n0; n <= n1; n++) {
      const v = n * p.yMinor;
      const q = v / p.yMajor;
      out.push({ v, major: Math.abs(q - Math.round(q)) < 1e-6 });
    }
  }
  return out;
}

function panelPlugin(p: Spec) {
  return {
    id: "deco_" + p.key,
    beforeDatasetsDraw(chart: any) {
      const m = p.marks;
      if (!m) return;
      const { ctx, chartArea: a } = chart;
      const xs = chart.scales.x;
      const off = a.top - p.top;
      ctx.save();
      ctx.strokeStyle = "#3a3a3a";
      ctx.lineWidth = 0.9;
      ctx.setLineDash([1, 2]);
      for (const v of m.lines) {
        const px = Math.round(xs.getPixelForValue(v)) + 0.5;
        ctx.beginPath();
        ctx.moveTo(px, a.top);
        ctx.lineTo(px, a.bottom);
        ctx.stroke();
      }
      ctx.setLineDash([]);
      ctx.fillStyle = "#1a1a1a";
      ctx.font = `14px ${SERIF}`;
      ctx.textAlign = "left";
      ctx.textBaseline = "middle";
      m.labels.forEach((t, i) => ctx.fillText(t, xs.getPixelForValue(m.lines[i]) + 3, m.labelY + off));
      const base = 11;
      const w0 = richWidth(ctx, ANNOT, base, SERIF);
      const size = (base * ANNOT_W) / w0;
      drawRich(ctx, ANNOT, m.annX, m.annY + off + size * 0.35, size, SERIF, "left");
      ctx.restore();
    },
    afterDraw(chart: any) {
      const { ctx, chartArea: a } = chart;
      const xs = chart.scales.x;
      const ys = chart.scales.y;
      ctx.save();
      ctx.strokeStyle = "#666";
      ctx.lineWidth = 1;
      ctx.beginPath();
      for (let v = Math.ceil(p.xMin); v <= p.xMax + 1e-9; v++) {
        const px = Math.round(xs.getPixelForValue(v)) + 0.5;
        const L = v % 5 === 0 ? 6 : 3;
        ctx.moveTo(px, a.top);
        ctx.lineTo(px, a.top + L);
        ctx.moveTo(px, a.bottom);
        ctx.lineTo(px, a.bottom - L);
      }
      for (const t of yTickList(p)) {
        const py = Math.round(ys.getPixelForValue(t.v)) + 0.5;
        const L = t.major ? 6 : 3;
        ctx.moveTo(a.left, py);
        ctx.lineTo(a.left + L, py);
        ctx.moveTo(a.right, py);
        ctx.lineTo(a.right - L, py);
      }
      ctx.stroke();
      // frame
      ctx.strokeStyle = "#8a8a8a";
      ctx.lineWidth = 1;
      ctx.beginPath();
      ctx.moveTo(a.left + 0.5, a.top);
      ctx.lineTo(a.left + 0.5, a.bottom);
      ctx.moveTo(a.right - 0.5, a.top);
      ctx.lineTo(a.right - 0.5, a.bottom);
      ctx.stroke();
      if (p.first) {
        ctx.strokeStyle = "#9a9a9a";
        ctx.lineWidth = 1;
        ctx.beginPath();
        ctx.moveTo(a.left, a.top + 0.5);
        ctx.lineTo(a.right, a.top + 0.5);
        ctx.stroke();
      } else {
        ctx.strokeStyle = "#3c3c3c";
        ctx.lineWidth = 1.6;
        ctx.beginPath();
        ctx.moveTo(a.left, a.top);
        ctx.lineTo(a.right, a.top);
        ctx.stroke();
      }
      ctx.strokeStyle = "#3c3c3c";
      ctx.lineWidth = 1.6;
      ctx.beginPath();
      ctx.moveTo(a.left, a.bottom);
      ctx.lineTo(a.right, a.bottom);
      ctx.stroke();
      // y title
      ctx.fillStyle = "#1a1a1a";
      ctx.save();
      ctx.translate(TITLE_X, (a.top + a.bottom) / 2);
      ctx.rotate(-Math.PI / 2);
      drawRich(ctx, p.title, 0, TITLE_SIZE * 0.35, TITLE_SIZE, SERIF, "center");
      ctx.restore();
      if (p.xTitle) {
        drawRich(ctx, X_TITLE, (a.left + a.right) / 2, a.bottom + 27, 14, SERIF, "center");
      }
      ctx.restore();
    },
  };
}

function makeChart(canvas: HTMLCanvasElement, p: Spec) {
  const yFont = { family: SANS, size: 8 };
  const xFont = { family: SANS, size: 8.5 };
  return new Chart(canvas, {
    type: "line",
    data: { datasets: p.datasets },
    options: {
      animation: false,
      responsive: false,
      events: [],
      layout: { padding: { left: 0, right: W - PLOT_R, top: PAD, bottom: p.xTicks ? p.padBottom || 0 : PAD } },
      plugins: { legend: { display: false }, tooltip: { enabled: false } },
      scales: {
        x: {
          type: "linear",
          min: p.xMin,
          max: p.xMax,
          display: !!p.xTicks,
          grid: { display: false, drawTicks: false },
          border: { display: false },
          ticks: { font: xFont, color: "#333", padding: 3, maxRotation: 0, autoSkip: false, callback: (v: any) => String(v) },
          afterBuildTicks: (s: any) => {
            if (p.xTicks) s.ticks = p.xTicks.map((v) => ({ value: v }));
          },
          afterFit: (s: any) => {
            if (p.xTicks) s.height = 16;
          },
        },
        y: {
          type: p.yType,
          min: p.yMin,
          max: p.yMax,
          position: "left",
          grid: { display: false, drawTicks: false },
          border: { display: false },
          ticks: { font: yFont, color: "#333", padding: 8, autoSkip: false, callback: (v: any) => fmt(Number(v)) },
          afterBuildTicks: (s: any) => {
            s.ticks = p.yTicks.map((v) => ({ value: v }));
          },
          afterFit: (s: any) => {
            s.width = PLOT_L;
          },
        },
      },
    } as any,
    plugins: [panelPlugin(p) as any],
  });
}

export default function App() {
  const refs = useRef<(HTMLCanvasElement | null)[]>([]);
  useEffect(() => {
    const charts = PANELS.map((p, i) => makeChart(refs.current[i] as HTMLCanvasElement, p));
    return () => charts.forEach((c) => c.destroy());
  }, []);
  return (
    <div style={{ position: "absolute", left: 0, top: 0, width: W, height: 735, background: "#fff" }}>
      {PANELS.map((p, i) => {
        const ch = canvasH(p);
        return (
          <canvas
            key={p.key}
            ref={(el) => {
              refs.current[i] = el;
            }}
            width={W}
            height={ch}
            style={{ position: "absolute", left: 0, top: p.top - PAD, width: W, height: ch }}
          />
        );
      })}
    </div>
  );
}
